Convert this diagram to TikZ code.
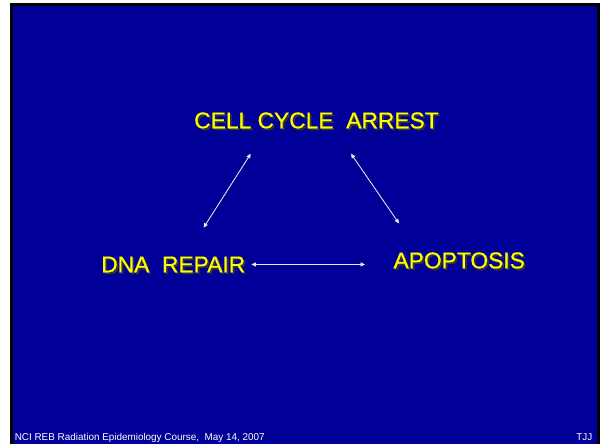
\documentclass[tikz,border=0pt]{standalone}
\usepackage{fontspec}
\setmainfont{Liberation Sans}
\newfontfamily\heavy[FakeBold=0.6]{Liberation Sans}
\usetikzlibrary{arrows.meta,calc}
\definecolor{slideblue}{RGB}{0,0,153}
\definecolor{slideyellow}{RGB}{255,255,0}
\tikzset{
  big/.style={font=\heavy\fontsize{22.8}{26}\selectfont, text=slideyellow, inner sep=0pt, anchor=base},
  bigshadow/.style={font=\heavy\fontsize{22.8}{26}\selectfont, text=black!80, inner sep=0pt, anchor=base},
  foot/.style={font=\fontsize{9.9}{11}\selectfont, text=white, inner sep=0pt, anchor=base west},
  arr/.style={draw=white!92!black, line width=0.8pt, {Triangle[length=4.5pt,width=4pt]}-{Triangle[length=4.5pt,width=4pt]}, fill=white}
}
\begin{document}
\begin{tikzpicture}[x=1pt,y=-1pt]
\useasboundingbox (0,0) rectangle (602,444);
\fill[white] (0,0) rectangle (602,444);
\fill[black] (10,3) rectangle (600,444);
\fill[slideblue] (13,6) rectangle (597,444);
% shadows
\node[bigshadow] at (318.3,130.1) {CELL CYCLE\ \ ARREST};
\node[bigshadow] at (175.0,274.1) {DNA\ \ REPAIR};
\node[bigshadow] at (461.0,270.1) {APOPTOSIS};
% texts
\node[big] (cell) at (316.5,128.3) {CELL CYCLE\ \ ARREST};
\node[big] (dna) at (173.2,272.3) {DNA\ \ REPAIR};
\node[big] (apo) at (459.2,268.3) {APOPTOSIS};
% connectors
\draw[arr] ([xshift=102.6pt,yshift=28.7pt]dna.north west) -- ([xshift=56.7pt,yshift=-25pt]cell.south west);
\draw[arr] ([xshift=157pt,yshift=-25pt]cell.south west) -- ([xshift=5.7pt,yshift=28.7pt]apo.north west);
\draw[arr] ([xshift=6pt]dna.east) -- ([xshift=-28.3pt]dna.east -| apo.west);
% footer
\node[foot] (course) at (14.6,440) {NCI REB Radiation Epidemiology Course,\ \ May 14, 2007};
\node[foot, anchor=base east] (tjj) at (592.5,440) {TJJ};
\end{tikzpicture}
\end{document}
